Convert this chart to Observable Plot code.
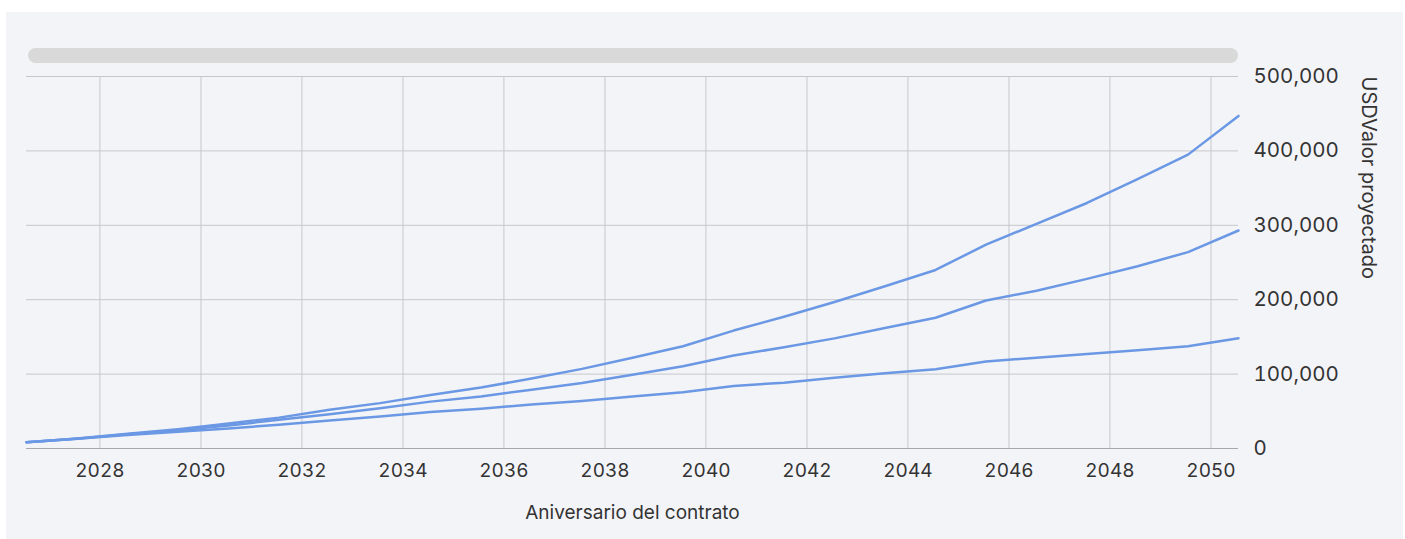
<!DOCTYPE html>
<html><head><meta charset="utf-8">
<script src="https://cdn.jsdelivr.net/npm/d3@7"></script>
<script src="https://cdn.jsdelivr.net/npm/@observablehq/plot@0.6"></script>
<style>
html,body{margin:0;padding:0;background:#fff;}
#panel{position:absolute;left:6px;top:12px;width:1397px;height:527px;background:#f3f4f8;}
#scroll{position:absolute;left:22px;top:36px;width:1210px;height:15px;border-radius:8px;background:#d9d9d9;}
#chart{position:absolute;left:0;top:0;}
</style></head><body><div id="panel"><div id="scroll"></div><div id="chart"></div></div>
<script>
const anniversaryYears = [2026,2027,2028,2029,2030,2031,2032,2033,2034,2035,2036,2037,2038,2039,2040,2041,2042,2043,2044,2045,2046,2047,2048,2049,2050];
const altoValues  = [8500,13500,20000,26000,33500,41500,52000,61000,72000,82000,94000,107000,122000,137500,158500,177000,197000,218000,240000,274000,302000,330000,362000,395000,447000];
const medioValues = [8500,13200,19000,24500,31000,38500,46000,54000,63000,70000,79000,88000,99000,110500,125000,136000,148000,162000,175700,199000,212000,228000,245000,264000,293000];
const bajoValues  = [8500,13000,18000,22500,27000,32000,37500,43000,49000,53500,59000,64000,70000,75700,84000,88500,95000,101000,106600,117000,122000,127000,132000,137500,148300];
const seriesNames = ["Alto","Medio","Bajo"];
const xTickYears = [2028,2030,2032,2034,2036,2038,2040,2042,2044,2046,2048,2050];
const yTicks = [0,100000,200000,300000,400000,500000];
const xLabel = "Aniversario del contrato";
const yLabel = "USDValor proyectado";

const annDate = y => new Date(Date.UTC(y, 6, 19));
const seriesValues = [altoValues, medioValues, bajoValues];
const data = [];
seriesNames.forEach((s, i) => anniversaryYears.forEach((y, j) => data.push({series: s, date: annDate(y), value: seriesValues[i][j]})));
const xTicks = xTickYears.map(y => new Date(Date.UTC(y, 0, 1)));
const fmtY = d3.format(",");
const fmtX = d3.utcFormat("%Y");

const chart = Plot.plot({
  width: 1397, height: 527,
  marginLeft: 20, marginRight: 165, marginTop: 64, marginBottom: 91,
  style: {background: "transparent", fontFamily: "Inter, 'Open Sans', sans-serif", fontSize: "19px", color: "#333"},
  x: {type: "utc", domain: [annDate(anniversaryYears[0]), annDate(anniversaryYears[anniversaryYears.length-1])], label: null},
  y: {domain: [0, 500000], label: null},
  marks: [
    Plot.gridX(xTicks, {stroke: "#c6c7cc", strokeOpacity: 1}),
    Plot.gridY(yTicks, {stroke: "#c6c7cc", strokeOpacity: 1}),
    Plot.ruleY([0], {stroke: "#a8a9ae"}),
    Plot.axisX(xTicks, {tickSize: 0, tickPadding: 15, tickFormat: fmtX, label: null, fill: "#333"}),
    Plot.axisY(yTicks, {anchor: "right", tickSize: 0, tickPadding: 15, tickFormat: fmtY, label: null, fill: "#333", fontSize: 20.5}),
    Plot.lineY(data, {x: "date", y: "value", z: "series", stroke: "#6b98e4", strokeWidth: 2.5}),
    Plot.text([xLabel], {text: d => d, frameAnchor: "bottom", dy: 70, fontSize: 19, fill: "#333"}),
    Plot.text([yLabel], {text: d => d, frameAnchor: "top-right", dx: 130, rotate: 90, textAnchor: "start", lineAnchor: "middle", fontSize: 20, fill: "#333"})
  ]
});
document.getElementById("chart").appendChild(chart);
</script>
</body></html>
